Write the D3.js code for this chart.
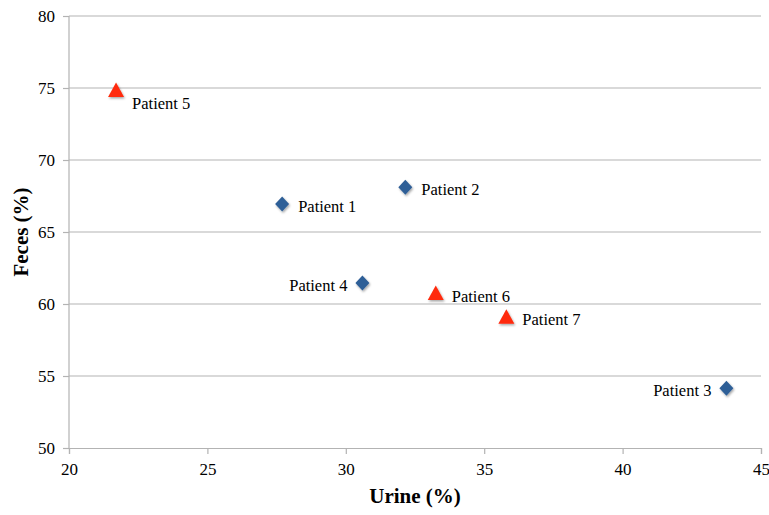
<!DOCTYPE html>
<html><head><meta charset="utf-8">
<script src="https://cdn.jsdelivr.net/npm/d3@7"></script>
<style>
body{margin:0;background:#fff;}
svg text{font-family:"Liberation Serif","Times New Roman",serif !important;fill:#000;}
</style></head>
<body><svg id="c" width="769" height="515"></svg>
<script>
const patients = ["Patient 1","Patient 2","Patient 3","Patient 4","Patient 5","Patient 6","Patient 7"];
const urine = [27.7, 32.15, 43.75, 30.6, 21.7, 33.25, 35.8];
const feces = [66.95, 68.1, 54.15, 61.45, 74.8, 60.7, 59.05];
const group = ["diamond","diamond","diamond","diamond","triangle","triangle","triangle"];
const labelSide = ["right","right","left","left","right","right","right"];
const xTicks = [20,25,30,35,40,45];
const yTicks = [50,55,60,65,70,75,80];

const svg = d3.select("#c");
const m = {l:69, r:8, t:16, b:67};
const W = 769, H = 515;
const x = d3.scaleLinear().domain([20,45]).range([m.l, W - m.r]);
const y = d3.scaleLinear().domain([50,80]).range([H - m.b, m.t]);

// gridlines
svg.append("g").selectAll("line").data(yTicks.slice(1)).join("line")
  .attr("x1", m.l).attr("x2", W - m.r)
  .attr("y1", d => y(d)).attr("y2", d => y(d))
  .attr("stroke", "#b3b3b3").attr("stroke-width", 1.2);

const gy = svg.append("g").attr("transform", `translate(${m.l},0)`)
  .call(d3.axisLeft(y).tickValues(yTicks).tickSize(6).tickPadding(8));
const gx = svg.append("g").attr("transform", `translate(0,${H - m.b})`)
  .call(d3.axisBottom(x).tickValues(xTicks).tickSize(6).tickPadding(9));
[gx, gy].forEach(g => {
  g.attr("font-family", null);
  g.select(".domain").attr("stroke", "#b3b3b3").attr("stroke-width", 1.2);
  g.selectAll(".tick line").attr("stroke", "#b3b3b3").attr("stroke-width", 1.2);
  g.selectAll(".tick text").attr("font-size", 17).style("font-family", "'Liberation Serif', serif").attr("fill", "#000");
});
gy.select(".domain").attr("d", `M0,${y(80)}V${y(50)}`);

svg.append("text").attr("x", (m.l + W - m.r)/2).attr("y", 503)
  .attr("text-anchor","middle").attr("font-size", 21).attr("font-weight","bold").text("Urine (%)");
svg.append("text").attr("transform", `translate(28,${(y(50)+y(80))/2}) rotate(-90)`)
  .attr("text-anchor","middle").attr("font-size", 21).attr("font-weight","bold").text("Feces (%)");

const defs = svg.append("defs");
const f = defs.append("filter").attr("id","sh").attr("x","-50%").attr("y","-50%").attr("width","200%").attr("height","200%");
f.append("feDropShadow").attr("dx",1).attr("dy",1.5).attr("stdDeviation",1).attr("flood-color","#000").attr("flood-opacity",0.35);

const data = patients.map((p,i) => ({p, u:urine[i], f:feces[i], g:group[i], s:labelSide[i]}));
const diamond = "M0,-7.5L7,0L0,7.5L-7,0Z";
const tri = "M0,-8.5L8,6L-8,6Z";
svg.append("g").selectAll("path").data(data).join("path")
  .attr("transform", d => `translate(${x(d.u)},${y(d.f)})`)
  .attr("d", d => d.g === "diamond" ? diamond : tri)
  .attr("fill", d => d.g === "diamond" ? "#2f5f97" : "#ff2a0a")
  .attr("filter","url(#sh)");

svg.append("g").selectAll("text").data(data).join("text")
  .attr("x", d => x(d.u) + (d.s === "right" ? 16 : -15))
  .attr("y", d => y(d.f) + (d.p === "Patient 5" ? 12 : 2))
  .attr("dy", "0.35em")
  .attr("text-anchor", d => d.s === "right" ? "start" : "end")
  .attr("font-size", 16.5)
  .style("font-family", "'Liberation Serif', serif")
  .text(d => d.p);
</script></body></html>
